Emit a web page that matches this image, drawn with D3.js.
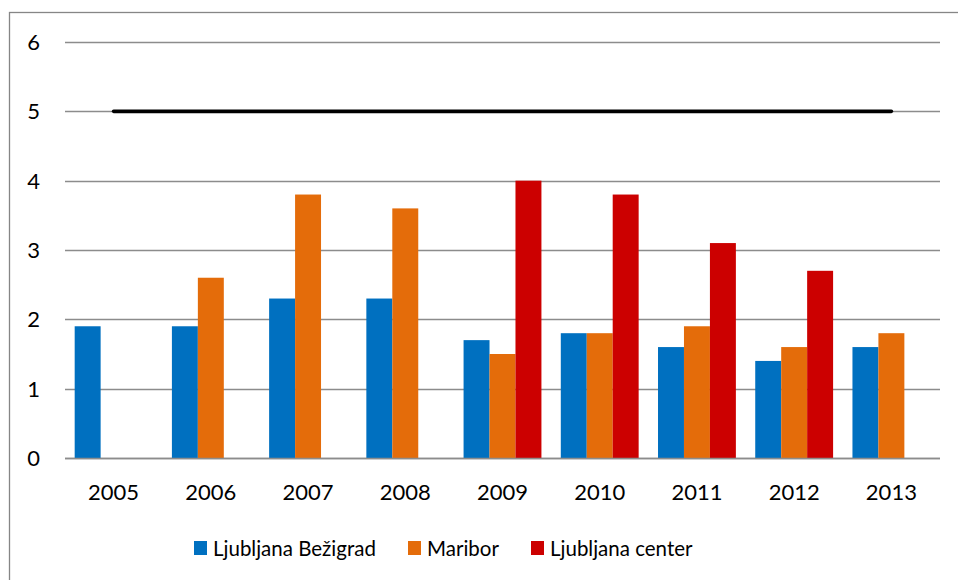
<!DOCTYPE html>
<html><head><meta charset="utf-8">
<script src="https://cdn.jsdelivr.net/npm/d3@7/dist/d3.min.js"></script>
<style>html,body{margin:0;padding:0;background:#fff;}svg{display:block;}</style>
</head><body>
<script>
const years = ["2005","2006","2007","2008","2009","2010","2011","2012","2013"];
const seriesNames = ["Ljubljana Bežigrad","Maribor","Ljubljana center"];
const bezigrad = [1.9,1.9,2.3,2.3,1.7,1.8,1.6,1.4,1.6];
const maribor  = [null,2.6,3.8,3.6,1.5,1.8,1.9,1.6,1.8];
const center   = [null,null,null,null,4.0,3.8,3.1,2.7,null];
const limit    = [5,5,5,5,5,5,5,5,5];
const yTicks   = [0,1,2,3,4,5,6];
const colors   = ["#0070C0","#E46C0A","#CC0000"];

const W=958,H=580;
const svg=d3.select("body").append("svg").attr("width",W).attr("height",H);
const font="Lato, 'Open Sans', sans-serif";

// outer border
svg.append("rect").attr("x",9.5).attr("y",12.5).attr("width",W+20).attr("height",H+20)
  .attr("fill","none").attr("stroke","#868686").attr("stroke-width",1.3);

const x=d3.scaleBand().domain(years).range([65,940]).paddingInner(0).paddingOuter(0);
const y=d3.scaleLinear().domain([0,6]).range([458,42]);
const series=[bezigrad,maribor,center];
const inner=d3.scaleBand().domain(d3.range(3)).range([0,x.bandwidth()]).paddingInner(0).paddingOuter(0.373);

// gridlines
svg.append("g").selectAll("line").data(yTicks).join("line")
  .attr("x1",65).attr("x2",940).attr("y1",d=>Math.round(y(d))+0.5).attr("y2",d=>Math.round(y(d))+0.5)
  .attr("stroke","#8c8c8c").attr("stroke-width",1.4);

// y labels
svg.append("g").selectAll("text").data(yTicks).join("text")
  .attr("x",40).attr("y",d=>y(d)).attr("dy","0.36em").attr("text-anchor","end")
  .attr("font-family",font).attr("font-size",22).attr("fill","#000").text(d=>d);

// bars
series.forEach((s,i)=>{
  svg.append("g").selectAll("rect").data(years.map((yr,j)=>({yr,v:s[j]})).filter(d=>d.v!=null)).join("rect")
    .attr("x",d=>x(d.yr)+inner(i)).attr("width",inner.bandwidth())
    .attr("y",d=>y(d.v)).attr("height",d=>y(0)-y(d.v))
    .attr("fill",colors[i]);
});

// axis line
svg.append("line").attr("x1",65).attr("x2",940).attr("y1",458.5).attr("y2",458.5)
  .attr("stroke","#8c8c8c").attr("stroke-width",1.4);

// limit line
const line=d3.line().x((d,j)=>x(years[j])+x.bandwidth()/2).y(d=>y(d));
svg.append("path").datum(limit).attr("d",line).attr("fill","none")
  .attr("stroke","#000").attr("stroke-width",3.6).attr("stroke-linecap","round");

// x labels
svg.append("g").selectAll("text").data(years).join("text")
  .attr("x",d=>x(d)+x.bandwidth()/2).attr("y",500).attr("text-anchor","middle")
  .attr("font-family",font).attr("font-size",22).attr("fill","#000").text(d=>d);

// legend
const legX=[194,408,531];
const lg=svg.append("g");
seriesNames.forEach((n,i)=>{
  lg.append("rect").attr("x",legX[i]).attr("y",541).attr("width",13).attr("height",14).attr("fill",colors[i]);
  lg.append("text").attr("x",legX[i]+19).attr("y",556).attr("font-family",font).attr("font-size",20.5)
    .attr("fill","#000").text(n);
});
</script>
</body></html>
